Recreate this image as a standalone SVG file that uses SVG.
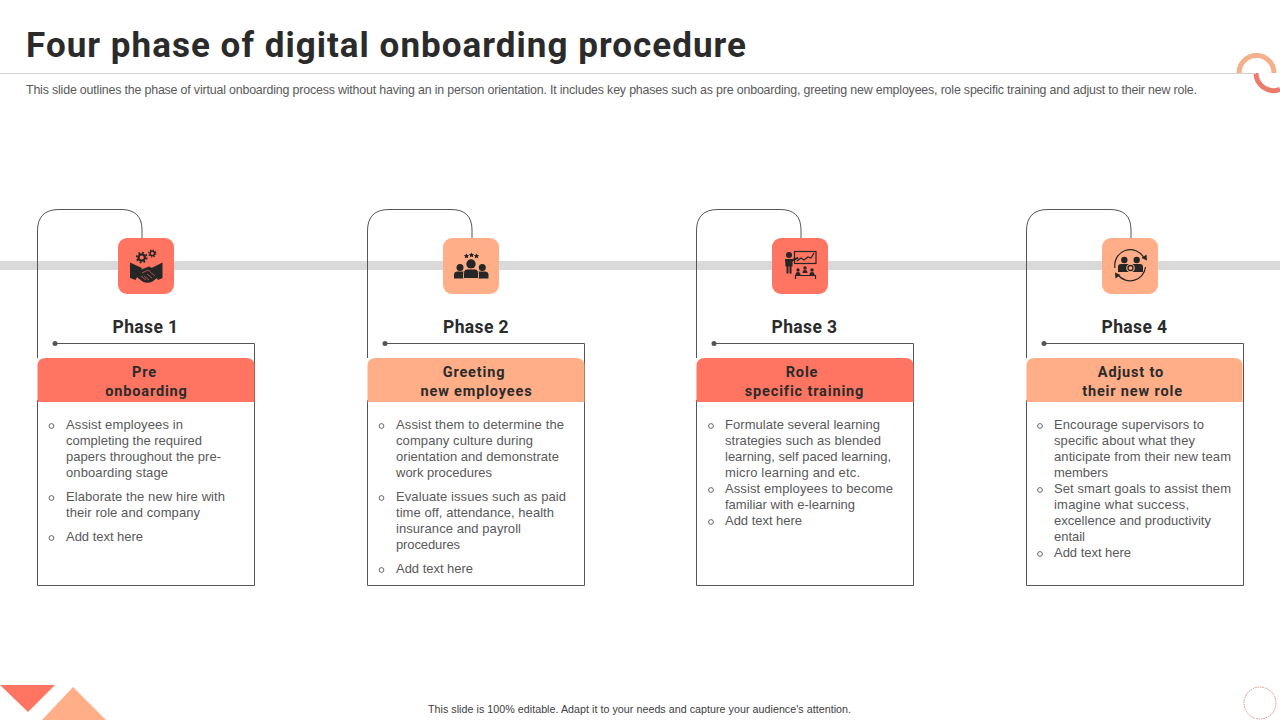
<svg xmlns="http://www.w3.org/2000/svg" width="1280" height="720" viewBox="0 0 1280 720">
<style>
text{font-family:"Roboto","Liberation Sans",sans-serif}
.title{font-size:35px;font-weight:700;fill:#2b2b2b}
.sub{font-family:"Liberation Sans",Arial,sans-serif;font-size:12.400px;fill:#595959}
.foot{font-family:"Liberation Sans",Arial,sans-serif;font-size:10.700px;fill:#404040}
.phase{font-size:17.500px;font-weight:700;fill:#2b2b2b;text-anchor:middle;letter-spacing:.4px}
.head{font-size:14.500px;font-weight:700;fill:#2b2b2b;text-anchor:middle;letter-spacing:.85px}
.body{font-family:"Liberation Sans",Arial,sans-serif;font-size:13px;fill:#595959}
.line{fill:none;stroke:#555;stroke-width:1}
.bul{fill:none;stroke:#595959;stroke-width:.9}
.ic{fill:#262626}
.icl{fill:none;stroke:#262626;stroke-width:1.200}
</style>
<rect width="1280" height="720" fill="#fff"/>
<g id="decor">
<path d="M1239 73A17.500 17.500 0 0 1 1274 73" fill="none" stroke="#f4b08c" stroke-width="5"/>
<path d="M1256 73A17.500 17.500 0 0 0 1280 89.300" fill="none" stroke="#ee7a6c" stroke-width="5"/>
<polygon points="0,685 55,685 28,712" fill="#ff7561"/>
<polygon points="42,720 73,687 106,720" fill="#ffae88"/>
<circle cx="1260" cy="703" r="16" fill="none" stroke="#d98a8a" stroke-width="1" stroke-dasharray="1.500 1"/>
</g>
<line x1="0" y1="73.500" x2="1256" y2="73.500" stroke="#d4d4d4" stroke-width="1"/>
<text class="title" x="26" y="57" textLength="720" lengthAdjust="spacing">Four phase of digital onboarding procedure</text>
<text class="sub" x="26" y="94" textLength="1171" lengthAdjust="spacing">This slide outlines the phase of virtual onboarding process without having an in person orientation. It includes key phases such as pre onboarding, greeting new employees, role specific training and adjust to their new role.</text>
<rect id="timeline" x="0" y="261" width="1280" height="9" fill="#d9d9d9"/>
<g id="connectors">
<path class="line" d="M142 238V230Q142 209.500 121 209.500H59Q37.500 209.500 37.500 231V358"/>
<path class="line" d="M472 238V230Q472 209.500 451 209.500H389Q367.500 209.500 367.500 231V358"/>
<path class="line" d="M801 238V230Q801 209.500 780 209.500H718Q696.500 209.500 696.500 231V358"/>
<path class="line" d="M1131 238V230Q1131 209.500 1110 209.500H1048Q1026.500 209.500 1026.500 231V358"/>
</g>
<g id="phase1">
<path class="line" d="M55 343.500H254.500V585.500H37.500V400"/>
<circle cx="55" cy="343.500" r="2.500" fill="#555"/>
<rect x="118" y="238" width="56" height="56" rx="9" fill="#ff7561"/>
<g id="icon1">
<path class="ic" d="M130 262.500l12 5.500-6.500 12-5.500-2zM162.500 262.500l-11 5.500 6.500 12 4.500-2z"/>
<path class="ic" d="M140 270l9-3.500 6.500 3.500 3.500 6.500-6.500 5q-5 2.500-10 0l-7-5.500z"/>
<path d="M142 273l6-3 7 6M146 280l-5-4M149 280l-5-4M152 278l-5-4" fill="none" stroke="#ff7561" stroke-width=".6"/>
<circle cx="141.700" cy="257.500" r="3.200" fill="none" stroke="#262626" stroke-width="2.200"/>
<circle cx="141.700" cy="257.500" r="5" fill="none" stroke="#262626" stroke-width="1.700" stroke-dasharray="1.900 2"/>
<circle cx="152.300" cy="253.500" r="2.200" fill="none" stroke="#262626" stroke-width="1.500"/>
<circle cx="152.300" cy="253.500" r="3.500" fill="none" stroke="#262626" stroke-width="1.200" stroke-dasharray="1.400 1.350"/>
</g>
<text class="phase" x="145.500" y="333">Phase 1</text>
<path d="M37.500 402V366Q37.500 358 46 358H246Q254.500 358 254.500 366V402Z" fill="#ff7561"/>
<text class="head" x="144.500" y="377">Pre</text>
<text class="head" x="146.500" y="396">onboarding</text>
<g class="b">
<circle class="bul" cx="51.500" cy="426" r="2.400"/>
<text class="body" x="66" y="429" textLength="117">Assist employees in</text>
<text class="body" x="66" y="445" textLength="136">completing the required</text>
<text class="body" x="66" y="461" textLength="155">papers throughout the pre-</text>
<text class="body" x="66" y="477" textLength="102">onboarding  stage</text>
<circle class="bul" cx="51.500" cy="498" r="2.400"/>
<text class="body" x="66" y="501" textLength="159">Elaborate the new hire with</text>
<text class="body" x="66" y="517" textLength="134">their role and company</text>
<circle class="bul" cx="51.500" cy="538" r="2.400"/>
<text class="body" x="66" y="541" textLength="77">Add text here</text>
</g>
</g>
<g id="phase2">
<path class="line" d="M385 343.500H584.500V585.500H367.500V400"/>
<circle cx="385" cy="343.500" r="2.500" fill="#555"/>
<rect x="443" y="238" width="56" height="56" rx="9" fill="#ffae88"/>
<g id="icon2">
<circle class="ic" cx="471" cy="264" r="4.700"/>
<circle class="ic" cx="460" cy="267.500" r="3.500"/>
<circle class="ic" cx="482.300" cy="267.500" r="3.500"/>
<path class="ic" d="M454 278.500v-3.500q0-3.500 3.500-3.500h7v7zM478 271.500h7q3.500 0 3.500 3.500v3.500h-10.500z"/>
<path class="ic" d="M463.500 278.500v-5q0-4.500 4-4.500h7q4 0 4 4.500v5z" stroke="#ffae88" stroke-width=".9"/>
<path class="ic" d="M466.500 253.500l.9 1.600 1.700.2-1.200 1.200.3 1.700-1.700-.8-1.700.8.300-1.700-1.200-1.200 1.700-.2zM471.500 252.500l.9 1.600 1.700.2-1.200 1.200.3 1.700-1.700-.8-1.700.8.300-1.700-1.200-1.200 1.700-.2zM476.500 253.500l.9 1.600 1.700.2-1.200 1.200.3 1.700-1.700-.8-1.700.8.300-1.700-1.200-1.200 1.700-.2z"/>
</g>
<text class="phase" x="476" y="333">Phase 2</text>
<path d="M367.500 402V366Q367.500 358 376 358H576Q584.500 358 584.500 366V402Z" fill="#ffae88"/>
<text class="head" x="474" y="377">Greeting</text>
<text class="head" x="476.500" y="396">new employees</text>
<g class="b">
<circle class="bul" cx="381.500" cy="426" r="2.400"/>
<text class="body" x="396" y="429" textLength="168">Assist them to determine the</text>
<text class="body" x="396" y="445" textLength="137">company culture during</text>
<text class="body" x="396" y="461" textLength="163">orientation and demonstrate</text>
<text class="body" x="396" y="477" textLength="96">work procedures</text>
<circle class="bul" cx="381.500" cy="498" r="2.400"/>
<text class="body" x="396" y="501" textLength="170">Evaluate issues such as paid</text>
<text class="body" x="396" y="517" textLength="158">time off, attendance, health</text>
<text class="body" x="396" y="533" textLength="125">insurance and payroll</text>
<text class="body" x="396" y="549" textLength="64">procedures</text>
<circle class="bul" cx="381.500" cy="570" r="2.400"/>
<text class="body" x="396" y="573" textLength="77">Add text here</text>
</g>
</g>
<g id="phase3">
<path class="line" d="M714 343.500H913.500V585.500H696.500V400"/>
<circle cx="714" cy="343.500" r="2.500" fill="#555"/>
<rect x="772" y="238" width="56" height="56" rx="9" fill="#ff7561"/>
<g id="icon3">
<circle class="ic" cx="789" cy="255" r="3"/>
<path class="ic" d="M785 259h7l6-2 .5 1.500-6 3v5h-1v7h-2v-7h-1v7h-2v-7h-1z"/>
<rect class="icl" x="794.500" y="251.500" width="21.500" height="12" stroke-width="1"/>
<path class="icl" d="M797 261l4-3 3 2 4-3 3 1 3-5"/>
<circle class="ic" cx="798" cy="270" r="1.700"/><circle class="ic" cx="805" cy="268" r="1.700"/><circle class="ic" cx="812" cy="270" r="1.700"/>
<path class="ic" d="M795.500 275q0-3 2.500-3t2.500 3zM802.500 273q0-3 2.500-3t2.500 3zM809.500 275q0-3 2.500-3t2.500 3z"/>
<path class="icl" d="M795.500 279v-3.500h20v3.500" stroke-width="1"/>
</g>
<text class="phase" x="804.500" y="333">Phase 3</text>
<path d="M696.500 402V366Q696.500 358 705 358H905Q913.500 358 913.500 366V402Z" fill="#ff7561"/>
<text class="head" x="802" y="377">Role</text>
<text class="head" x="804.500" y="396">specific training</text>
<g class="b">
<circle class="bul" cx="711" cy="426" r="2.400"/>
<text class="body" x="725" y="429" textLength="155">Formulate several learning</text>
<text class="body" x="725" y="445" textLength="156">strategies such as blended</text>
<text class="body" x="725" y="461" textLength="166">learning, self paced learning,</text>
<text class="body" x="725" y="477" textLength="135">micro learning and etc.</text>
<circle class="bul" cx="711" cy="490" r="2.400"/>
<text class="body" x="725" y="493" textLength="168">Assist employees to become</text>
<text class="body" x="725" y="509" textLength="130">familiar with e-learning</text>
<circle class="bul" cx="711" cy="522" r="2.400"/>
<text class="body" x="725" y="525" textLength="77">Add text here</text>
</g>
</g>
<g id="phase4">
<path class="line" d="M1044 343.500H1243.500V585.500H1026.500V400"/>
<circle cx="1044" cy="343.500" r="2.500" fill="#555"/>
<rect x="1102" y="238" width="56" height="56" rx="9" fill="#ffae88"/>
<g id="icon4">
<path class="icl" d="M1115 268A15.500 15.500 0 0 1 1144 258M1145.500 267A15.500 15.500 0 0 1 1118 275"/>
<path class="ic" d="M1146.500 254.500l.5 6-5.500-2.500zM1115.500 278.500l-.5-6 5.500 2.500z"/>
<circle class="ic" cx="1124.300" cy="260" r="3.200"/><circle class="ic" cx="1136.700" cy="260" r="3.200"/>
<path class="ic" d="M1118 272v-5q0-3 3-3h19q3 0 3 3v5z"/>
<circle cx="1130.500" cy="268" r="4.300" fill="#ffae88"/>
<circle cx="1130.500" cy="268" r="2.500" fill="none" stroke="#262626" stroke-width="1.300"/>
</g>
<text class="phase" x="1134.500" y="333">Phase 4</text>
<path d="M1026.500 402V366Q1026.500 358 1035 358H1234Q1242.500 358 1242.500 366V402Z" fill="#ffae88"/>
<text class="head" x="1131" y="377">Adjust to</text>
<text class="head" x="1132.500" y="396">their new role</text>
<g class="b">
<circle class="bul" cx="1040" cy="426" r="2.400"/>
<text class="body" x="1054" y="429" textLength="150">Encourage supervisors to</text>
<text class="body" x="1054" y="445" textLength="141">specific about what they</text>
<text class="body" x="1054" y="461" textLength="177">anticipate from their new team</text>
<text class="body" x="1054" y="477" textLength="54">members</text>
<circle class="bul" cx="1040" cy="490" r="2.400"/>
<text class="body" x="1054" y="493" textLength="177">Set smart goals to assist them</text>
<text class="body" x="1054" y="509" textLength="135">imagine what success,</text>
<text class="body" x="1054" y="525" textLength="157">excellence and productivity</text>
<text class="body" x="1054" y="541" textLength="31">entail</text>
<circle class="bul" cx="1040" cy="554" r="2.400"/>
<text class="body" x="1054" y="557" textLength="77">Add text here</text>
</g>
</g>
<text class="foot" x="428" y="713" textLength="423" lengthAdjust="spacing">This slide is 100% editable.  Adapt it to your needs and capture your audience's attention.</text>
</svg>
